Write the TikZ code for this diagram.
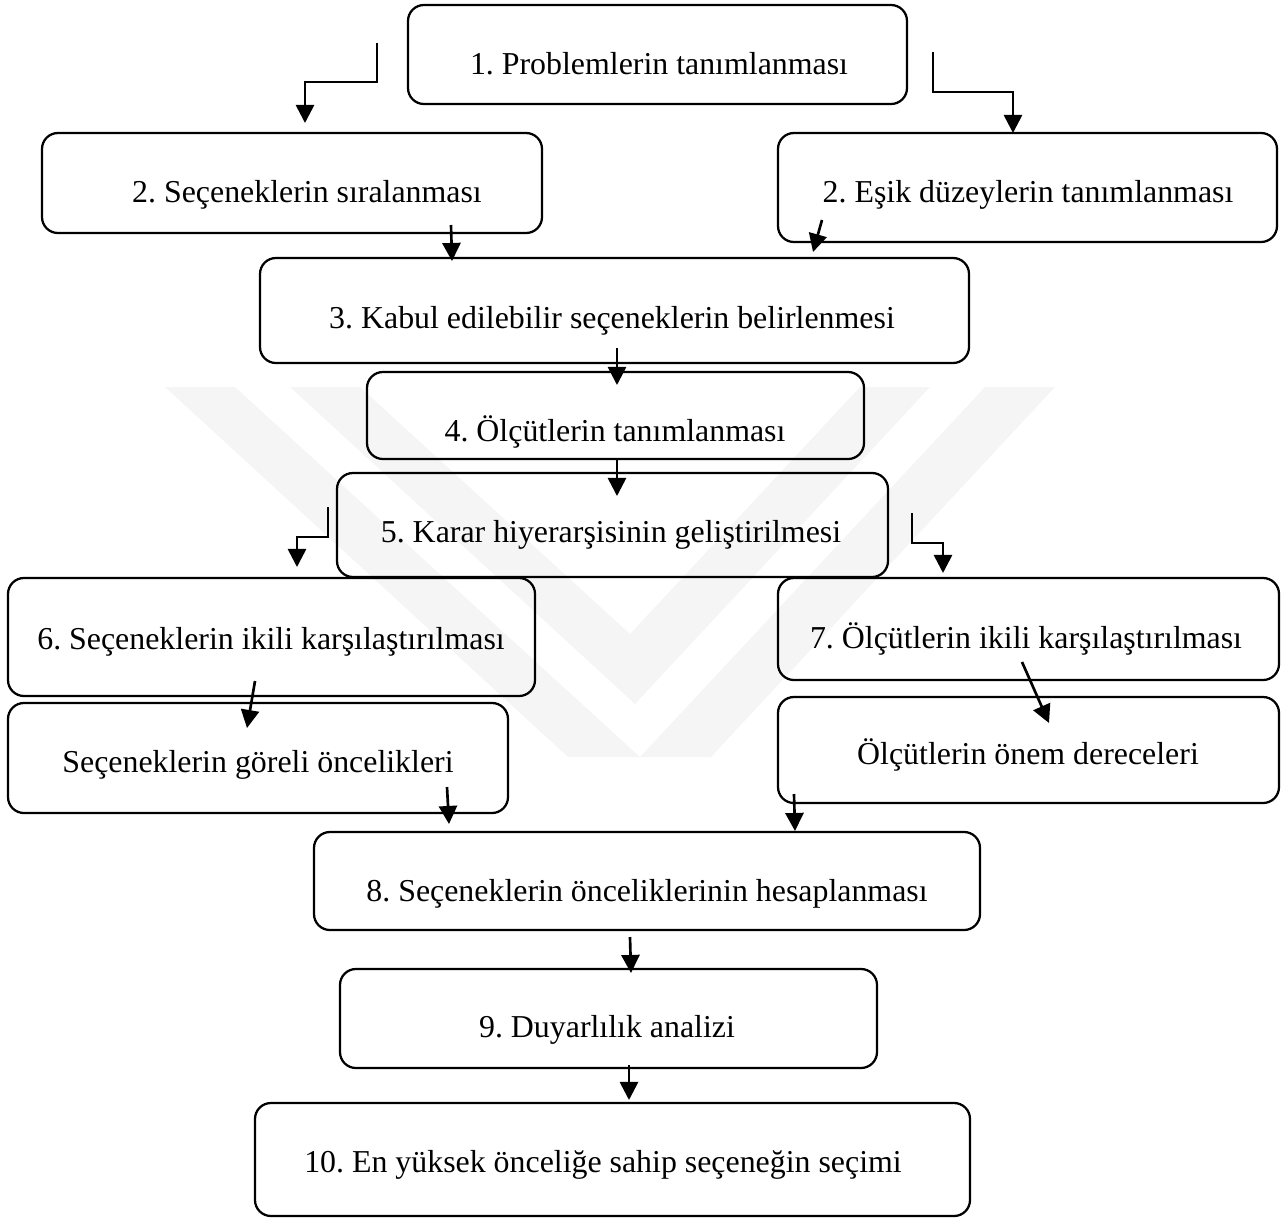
\documentclass[tikz,border=0pt]{standalone}
\usepackage{fontspec}
\setmainfont{Liberation Serif}
\frenchspacing
\usetikzlibrary{arrows.meta,fit}
\begin{document}
\begin{tikzpicture}[x=0.3765pt,y=-0.3765pt,
  box/.style={draw, rounded corners=6pt, line width=0.85pt, inner sep=0pt},
  lbl/.style={font=\fontsize{12}{14}\selectfont, inner sep=0pt, text height=8.4pt, text depth=2.6pt},
  arr/.style={line width=1pt, line join=miter, -{Triangle[length=6.8pt,width=6.8pt]}},
  wmark/.style={fill=black!4, draw=none}]
\useasboundingbox (0,0) rectangle (1281,1220);

% faint background emblem
\fill[wmark] (165,387) -- (235,387) -- (640,757) -- (985,387) -- (1055,387) -- (711,757) -- (568,757) -- cycle;
\fill[wmark] (290,387) -- (360,387) -- (630,634) -- (860,387) -- (930,387) -- (635,704) -- cycle;

% boxes
\node[box, fit={(408,5) (907,104)}]    (b1)  {};
\node[box, fit={(42,133) (542,233)}]   (b2a) {};
\node[box, fit={(778,133) (1277,242)}] (b2b) {};
\node[box, fit={(260,258) (969,363)}]  (b3)  {};
\node[box, fit={(367,372) (864,459)}]  (b4)  {};
\node[box, fit={(337,473) (888,577)}]  (b5)  {};
\node[box, fit={(8,578) (535,696)}]    (b6)  {};
\node[box, fit={(8,703) (508,813)}]    (b6r) {};
\node[box, fit={(778,578) (1279,680)}] (b7)  {};
\node[box, fit={(778,697) (1279,803)}] (b7r) {};
\node[box, fit={(314,832) (980,930)}]  (b8)  {};
\node[box, fit={(340,969) (877,1068)}] (b9)  {};
\node[box, fit={(255,1103) (970,1216)}] (b10) {};

% texts
\node[lbl] (t1)  at (659,67)   {1. Problemlerin tanımlanması};
\node[lbl] (t2a) at (307,195)  {2. Seçeneklerin sıralanması};
\node[lbl] (t2b) at (1028,195) {2. Eşik düzeylerin tanımlanması};
\node[lbl] (t3)  at (612,321)  {3. Kabul edilebilir seçeneklerin belirlenmesi};
\node[lbl] (t4)  at (615,434)  {4. Ölçütlerin tanımlanması};
\node[lbl] (t5)  at (611,535)  {5. Karar hiyerarşisinin geliştirilmesi};
\node[lbl] (t6)  at (271,642)  {6. Seçeneklerin ikili karşılaştırılması};
\node[lbl] (t6r) at (258,765)  {Seçeneklerin göreli öncelikleri};
\node[lbl] (t7)  at (1026,641) {7. Ölçütlerin ikili karşılaştırılması};
\node[lbl] (t7r) at (1028,757) {Ölçütlerin önem dereceleri};
\node[lbl] (t8)  at (647,894)  {8. Seçeneklerin önceliklerinin hesaplanması};
\node[lbl] (t9)  at (607,1030) {9. Duyarlılık analizi};
\node[lbl] (t10) at (603,1165) {10. En yüksek önceliğe sahip seçeneğin seçimi};

% connector ends
\coordinate (a1s) at (377,43);   \coordinate (a1e) at (305,123);
\coordinate (a2s) at (933,52);   \coordinate (a2e) at (1013,133);
\coordinate (a3s) at (451,225);  \coordinate (a3e) at (452,261);
\coordinate (a4s) at (822,220);  \coordinate (a4e) at (813,252);
\coordinate (a5s) at (617,348);  \coordinate (a5e) at (617,385);
\coordinate (a6s) at (617,460);  \coordinate (a6e) at (617,496);
\coordinate (a7s) at (328,507);  \coordinate (a7e) at (297,567);
\coordinate (a8s) at (912,513);  \coordinate (a8e) at (943,573);
\coordinate (a9s) at (255,681);  \coordinate (a9e) at (247,728);
\coordinate (a10s) at (1022,662); \coordinate (a10e) at (1049,723);
\coordinate (a11s) at (447,787); \coordinate (a11e) at (449,824);
\coordinate (a12s) at (794,794); \coordinate (a12e) at (795,831);
\coordinate (a13s) at (630,937); \coordinate (a13e) at (631,973);
\coordinate (a14s) at (629,1065); \coordinate (a14e) at (629,1100);

% connectors
\draw[arr] (a1s) -- (377,82) -| (a1e);
\draw[arr] (a2s) -- (933,92) -| (a2e);
\draw[arr] (a3s) -- (a3e);
\draw[arr] (a4s) -- (a4e);
\draw[arr] (a5s) -- (a5e);
\draw[arr] (a6s) -- (a6e);
\draw[arr] (a7s) -- (328,537) -| (a7e);
\draw[arr] (a8s) -- (912,543) -| (a8e);
\draw[arr] (a9s) -- (a9e);
\draw[arr] (a10s) -- (a10e);
\draw[arr] (a11s) -- (a11e);
\draw[arr] (a12s) -- (a12e);
\draw[arr] (a13s) -- (a13e);
\draw[arr] (a14s) -- (a14e);
\end{tikzpicture}
\end{document}
